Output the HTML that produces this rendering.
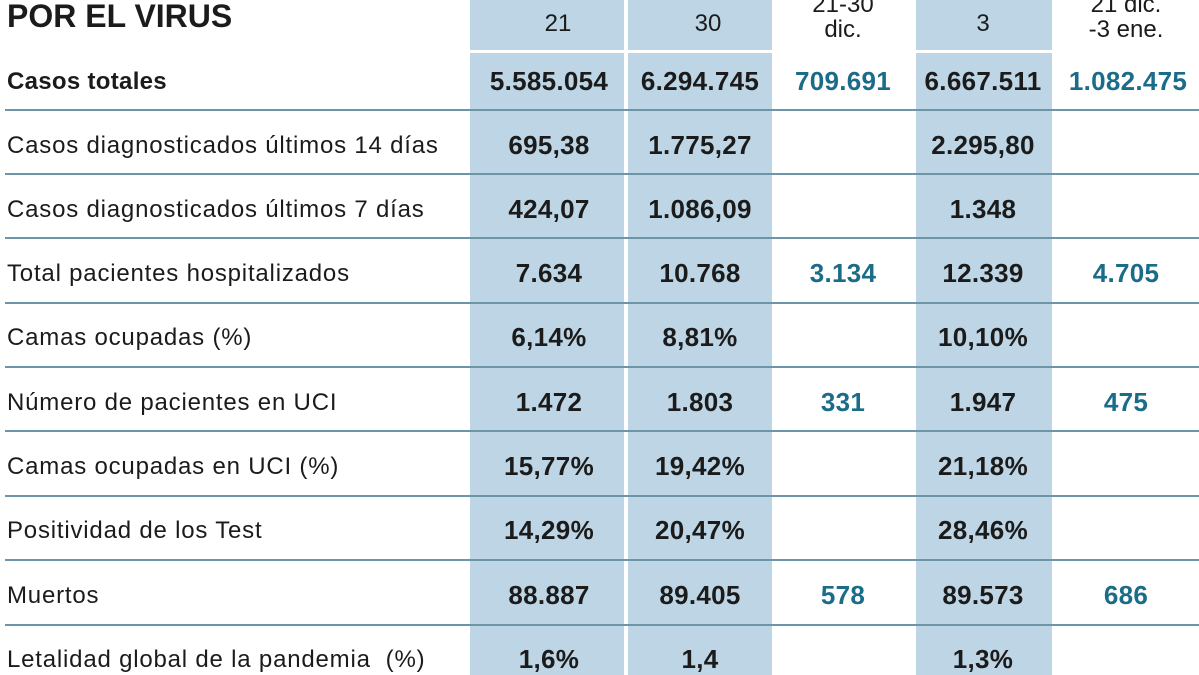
<!DOCTYPE html>
<html><head><meta charset="utf-8"><style>
html,body{margin:0;padding:0;}
body{width:1199px;height:675px;position:relative;overflow:hidden;background:#fff;font-family:"Liberation Sans",sans-serif;color:#1b1b1b;}
.col{position:absolute;background:#bdd5e4;}
.hl{position:absolute;left:5px;width:1194px;height:2px;background:#6d95a8;}
.t{position:absolute;white-space:nowrap;}
.lab{left:7px;font-size:24px;letter-spacing:0.8px;}
.v{font-weight:bold;font-size:26px;letter-spacing:0.3px;text-align:center;transform:translateX(-50%);}
.b{color:#1b6c89;}
.h{font-size:24px;text-align:center;transform:translateX(-50%);line-height:25px;}
</style></head><body>
<div class="col" style="left:470px;top:0;width:154px;height:50px"></div>
<div class="col" style="left:628px;top:0;width:144px;height:50px"></div>
<div class="col" style="left:916px;top:0;width:136px;height:50px"></div>
<div class="col" style="left:470px;top:53px;width:154px;height:622px"></div>
<div class="col" style="left:628px;top:53px;width:144px;height:622px"></div>
<div class="col" style="left:916px;top:53px;width:136px;height:622px"></div>
<div class="t" style="left:7px;top:-2px;font-size:32px;font-weight:bold;">POR EL VIRUS</div>
<div class="t h" style="left:558px;top:11px">21</div>
<div class="t h" style="left:708px;top:11px">30</div>
<div class="t h" style="left:843px;top:-8px">21-30<br>dic.</div>
<div class="t h" style="left:983px;top:11px">3</div>
<div class="t h" style="left:1126px;top:-8px">21 dic.<br>-3 ene.</div>

<div class="hl" style="top:109px"></div>
<div class="hl" style="top:173px"></div>
<div class="hl" style="top:237px"></div>
<div class="hl" style="top:302px"></div>
<div class="hl" style="top:366px"></div>
<div class="hl" style="top:430px"></div>
<div class="hl" style="top:495px"></div>
<div class="hl" style="top:559px"></div>
<div class="hl" style="top:624px"></div>

<div class="t lab" style="top:68px;font-weight:bold;letter-spacing:0.3px">Casos totales</div>
<div class="t v" style="left:549px;top:66px">5.585.054</div>
<div class="t v" style="left:700px;top:66px">6.294.745</div>
<div class="t v b" style="left:843px;top:66px">709.691</div>
<div class="t v" style="left:983px;top:66px">6.667.511</div>
<div class="t v b" style="left:1128px;top:66px">1.082.475</div>

<div class="t lab" style="top:132px">Casos diagnosticados últimos 14 días</div>
<div class="t v" style="left:549px;top:130px">695,38</div>
<div class="t v" style="left:700px;top:130px">1.775,27</div>
<div class="t v" style="left:983px;top:130px">2.295,80</div>

<div class="t lab" style="top:196px">Casos diagnosticados últimos 7 días</div>
<div class="t v" style="left:549px;top:194px">424,07</div>
<div class="t v" style="left:700px;top:194px">1.086,09</div>
<div class="t v" style="left:983px;top:194px">1.348</div>

<div class="t lab" style="top:260px">Total pacientes hospitalizados</div>
<div class="t v" style="left:549px;top:258px">7.634</div>
<div class="t v" style="left:700px;top:258px">10.768</div>
<div class="t v b" style="left:843px;top:258px">3.134</div>
<div class="t v" style="left:983px;top:258px">12.339</div>
<div class="t v b" style="left:1126px;top:258px">4.705</div>

<div class="t lab" style="top:324px">Camas ocupadas (%)</div>
<div class="t v" style="left:549px;top:322px">6,14%</div>
<div class="t v" style="left:700px;top:322px">8,81%</div>
<div class="t v" style="left:983px;top:322px">10,10%</div>

<div class="t lab" style="top:389px">Número de pacientes en UCI</div>
<div class="t v" style="left:549px;top:387px">1.472</div>
<div class="t v" style="left:700px;top:387px">1.803</div>
<div class="t v b" style="left:843px;top:387px">331</div>
<div class="t v" style="left:983px;top:387px">1.947</div>
<div class="t v b" style="left:1126px;top:387px">475</div>

<div class="t lab" style="top:453px">Camas ocupadas en UCI (%)</div>
<div class="t v" style="left:549px;top:451px">15,77%</div>
<div class="t v" style="left:700px;top:451px">19,42%</div>
<div class="t v" style="left:983px;top:451px">21,18%</div>

<div class="t lab" style="top:517px">Positividad de los Test</div>
<div class="t v" style="left:549px;top:515px">14,29%</div>
<div class="t v" style="left:700px;top:515px">20,47%</div>
<div class="t v" style="left:983px;top:515px">28,46%</div>

<div class="t lab" style="top:582px">Muertos</div>
<div class="t v" style="left:549px;top:580px">88.887</div>
<div class="t v" style="left:700px;top:580px">89.405</div>
<div class="t v b" style="left:843px;top:580px">578</div>
<div class="t v" style="left:983px;top:580px">89.573</div>
<div class="t v b" style="left:1126px;top:580px">686</div>

<div class="t lab" style="top:646px">Letalidad global de la pandemia&nbsp; (%)</div>
<div class="t v" style="left:549px;top:644px">1,6%</div>
<div class="t v" style="left:700px;top:644px">1,4</div>
<div class="t v" style="left:983px;top:644px">1,3%</div>
</body></html>
